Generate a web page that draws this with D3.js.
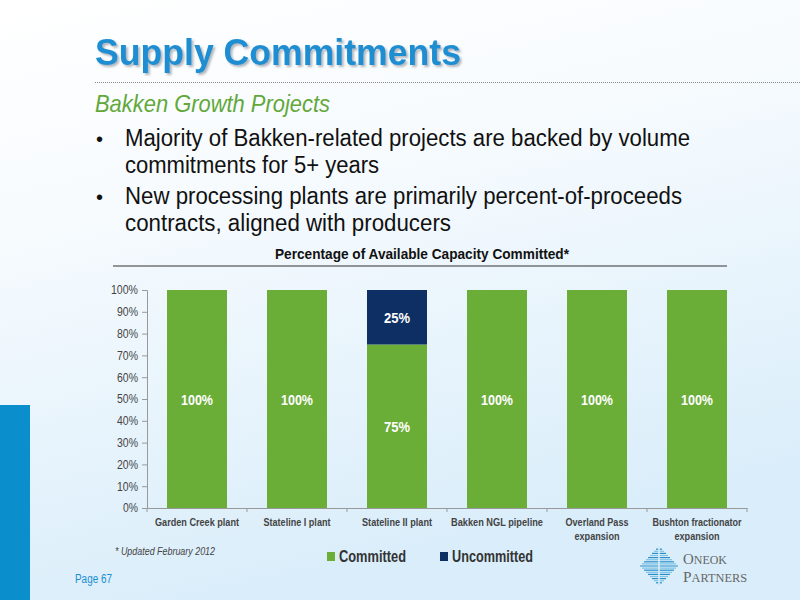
<!DOCTYPE html>
<html>
<head>
<meta charset="utf-8">
<script src="https://cdn.jsdelivr.net/npm/d3@7"></script>
<style>
  body { margin: 0; padding: 0; }
  svg { display: block; font-family: "Liberation Sans", Arial, sans-serif; }
</style>
</head>
<body>
<svg id="chart" width="800" height="600"></svg>
<script>
// chart data
var categories = ['Garden Creek plant', 'Stateline I plant', 'Stateline II plant',
                  'Bakken NGL pipeline', 'Overland Pass expansion', 'Bushton fractionator expansion'];
var committed = [1.00, 1.00, 0.75, 1.00, 1.00, 1.00];
var uncommitted = [0, 0, 0.25, 0, 0, 0];
var seriesNames = ['Committed', 'Uncommitted'];
var seriesColors = ['#6aad37', '#0d2f63'];
var yTicks = [0, 0.1, 0.2, 0.3, 0.4, 0.5, 0.6, 0.7, 0.8, 0.9, 1.0];

var bullets = [
    ['Majority of Bakken-related projects are backed by volume', 'commitments for 5+ years'],
    ['New processing plants are primarily percent-of-proceeds', 'contracts, aligned with producers']
];

var svg = d3.select('#chart');

// squeeze text to a width (the slide uses Arial Narrow)
function fit(sel, w) {
    return sel.attr('textLength', w).attr('lengthAdjust', 'spacingAndGlyphs');
}

// background
var defs = svg.append('defs');
var grad = defs.append('linearGradient')
    .attr('id', 'bg')
    .attr('x1', '0').attr('y1', '0')
    .attr('x2', '0.3').attr('y2', '1');
grad.append('stop').attr('offset', '0').attr('stop-color', '#ffffff');
grad.append('stop').attr('offset', '0.35').attr('stop-color', '#f7fbfe');
grad.append('stop').attr('offset', '1').attr('stop-color', '#d9edfa');

var shadow = defs.append('filter').attr('id', 'shadow')
    .attr('x', '-5%').attr('y', '-20%').attr('width', '115%').attr('height', '150%');
shadow.append('feDropShadow')
    .attr('dx', 2).attr('dy', 2).attr('stdDeviation', 1)
    .attr('flood-color', '#7d8790').attr('flood-opacity', 0.6);

svg.append('rect')
    .attr('width', 800).attr('height', 600)
    .attr('fill', 'url(#bg)');

// blue strip at the left
svg.append('rect')
    .attr('x', 0).attr('y', 405)
    .attr('width', 30).attr('height', 195)
    .attr('fill', '#0a8fcc');

// title
fit(svg.append('text')
    .attr('x', 95).attr('y', 65)
    .attr('font-size', 36).attr('font-weight', 'bold')
    .attr('fill', '#1b8ed1')
    .attr('filter', 'url(#shadow)')
    .text('Supply Commitments'), 366);

svg.append('line')
    .attr('x1', 95).attr('y1', 82.5)
    .attr('x2', 800).attr('y2', 82.5)
    .attr('stroke', '#8a8a8a')
    .attr('stroke-width', 1)
    .attr('stroke-dasharray', '1,1');

fit(svg.append('text')
    .attr('x', 95).attr('y', 112)
    .attr('font-size', 24).attr('font-style', 'italic')
    .attr('fill', '#62a83a')
    .text('Bakken Growth Projects'), 235);

// bullets
var bulletY = [146, 204];
var bulletW = [[565, 254], [557, 326]];
bullets.forEach(function(lines, i) {
    svg.append('text')
        .attr('x', 96).attr('y', bulletY[i])
        .attr('font-size', 20).attr('fill', '#111')
        .text('\u2022');
    lines.forEach(function(line, j) {
        fit(svg.append('text')
            .attr('x', 125).attr('y', bulletY[i] + j * 26.5)
            .attr('font-size', 23).attr('fill', '#111')
            .text(line), bulletW[i][j]);
    });
});

// chart title
fit(svg.append('text')
    .attr('x', 275).attr('y', 258.5)
    .attr('font-size', 15).attr('font-weight', 'bold')
    .attr('fill', '#111')
    .text('Percentage of Available Capacity Committed*'), 294);
svg.append('line')
    .attr('x1', 113).attr('y1', 266)
    .attr('x2', 727).attr('y2', 266)
    .attr('stroke', '#333').attr('stroke-width', 1.2);

// scales
var x = d3.scaleBand()
    .domain(categories)
    .range([147, 747])
    .paddingInner(0.4)
    .paddingOuter(0.2);
var y = d3.scaleLinear()
    .domain([0, 1])
    .range([508, 290]);

var stackData = categories.map(function(c, i) {
    return { cat: c, Committed: committed[i], Uncommitted: uncommitted[i] };
});
var stack = d3.stack().keys(seriesNames)(stackData);

var layers = svg.append('g').selectAll('g')
    .data(stack)
    .enter()
    .append('g')
    .attr('fill', function(d, i) { return seriesColors[i]; });

layers.selectAll('rect')
    .data(function(d) { return d; })
    .enter()
    .append('rect')
    .attr('x', function(d) { return x(d.data.cat); })
    .attr('y', function(d) { return y(d[1]); })
    .attr('width', x.bandwidth())
    .attr('height', function(d) { return y(d[0]) - y(d[1]); });

layers.selectAll('text')
    .data(function(d) { return d.filter(function(s) { return s[1] - s[0] > 0; }); })
    .enter()
    .append('text')
    .attr('x', function(d) { return x(d.data.cat) + x.bandwidth() / 2; })
    .attr('y', function(d) { return y((d[0] + d[1]) / 2) + 6; })
    .attr('text-anchor', 'middle')
    .attr('font-size', 15).attr('font-weight', 'bold')
    .attr('fill', '#ffffff')
    .attr('textLength', function(d) { return (d[1] - d[0]) >= 1 ? 32 : 26; })
    .attr('lengthAdjust', 'spacingAndGlyphs')
    .text(function(d) { return Math.round((d[1] - d[0]) * 100) + '%'; });

// y axis
var yAxis = svg.append('g')
    .attr('transform', 'translate(147,0)')
    .call(d3.axisLeft(y).tickValues(yTicks).tickFormat(d3.format('.0%')).tickSize(5).tickPadding(4));
yAxis.select('.domain').attr('stroke', '#999');
yAxis.selectAll('.tick line').attr('stroke', '#999');
yAxis.selectAll('.tick text')
    .attr('font-size', 12)
    .attr('font-family', '"Liberation Sans", Arial, sans-serif')
    .attr('fill', '#444')
    .attr('textLength', function(d) { return d >= 1 ? 27 : (d > 0 ? 21 : 15); })
    .attr('lengthAdjust', 'spacingAndGlyphs');

// x axis
var xAxis = svg.append('g')
    .attr('transform', 'translate(0,508)')
    .call(d3.axisBottom(x).tickSize(0).tickSizeOuter(0));
xAxis.select('.domain').attr('stroke', '#999');
xAxis.selectAll('.tick text').remove();
// tick marks between categories
xAxis.selectAll('.sep')
    .data(d3.range(categories.length + 1))
    .enter()
    .append('line')
    .attr('x1', function(i) { return 147 + i * x.step(); })
    .attr('x2', function(i) { return 147 + i * x.step(); })
    .attr('y1', 0).attr('y2', 4)
    .attr('stroke', '#999');

var catLines = {
    'Garden Creek plant': [['Garden Creek plant', 84]],
    'Stateline I plant': [['Stateline I plant', 67]],
    'Stateline II plant': [['Stateline II plant', 70]],
    'Bakken NGL pipeline': [['Bakken NGL pipeline', 92]],
    'Overland Pass expansion': [['Overland Pass', 63], ['expansion', 45]],
    'Bushton fractionator expansion': [['Bushton fractionator', 89], ['expansion', 45]]
};
categories.forEach(function(c) {
    catLines[c].forEach(function(l, j) {
        fit(svg.append('text')
            .attr('x', x(c) + x.bandwidth() / 2)
            .attr('y', 526 + j * 14)
            .attr('text-anchor', 'middle')
            .attr('font-size', 11.5).attr('font-weight', 'bold')
            .attr('fill', '#444')
            .text(l[0]), l[1]);
    });
});

// footnote
fit(svg.append('text')
    .attr('x', 115).attr('y', 555)
    .attr('font-size', 11).attr('font-style', 'italic')
    .attr('fill', '#444')
    .text('* Updated February 2012'), 100);

// legend
var legendX = [327, 440];
var legendW = [67, 81];
seriesNames.forEach(function(s, i) {
    svg.append('rect')
        .attr('x', legendX[i]).attr('y', 552)
        .attr('width', 8).attr('height', 9)
        .attr('fill', seriesColors[i]);
    fit(svg.append('text')
        .attr('x', legendX[i] + 12).attr('y', 562)
        .attr('font-size', 16).attr('font-weight', 'bold')
        .attr('fill', '#333')
        .text(s), legendW[i]);
});

// page number
fit(svg.append('text')
    .attr('x', 75).attr('y', 583)
    .attr('font-size', 12)
    .attr('fill', '#1b8ed1')
    .text('Page 67'), 37);

// logo
var logo = svg.append('g').attr('transform', 'translate(659,566)');
d3.range(-9, 10).forEach(function(k) {
    var half = 19 - Math.abs(k) * 2;
    logo.append('line')
        .attr('x1', -half).attr('x2', half)
        .attr('y1', k * 2.1).attr('y2', k * 2.1)
        .attr('stroke', k % 2 == 0 ? '#2a8fc9' : '#7cc3e6')
        .attr('stroke-width', 1.2);
});
logo.append('line')
    .attr('x1', 0).attr('x2', 0).attr('y1', -22).attr('y2', 22)
    .attr('stroke', '#dff0fa').attr('stroke-width', 1.5);

var logoWords = [['O', 'NEOK', 564, 44], ['P', 'ARTNERS', 582, 64]];
logoWords.forEach(function(w) {
    var t = svg.append('text')
        .attr('x', 683).attr('y', w[2])
        .attr('font-family', '"Liberation Serif", serif')
        .attr('fill', '#666')
        .attr('textLength', w[3])
        .attr('lengthAdjust', 'spacingAndGlyphs');
    t.append('tspan').attr('font-size', 15).text(w[0]);
    t.append('tspan').attr('font-size', 12).text(w[1]);
});
</script>
</body>
</html>
